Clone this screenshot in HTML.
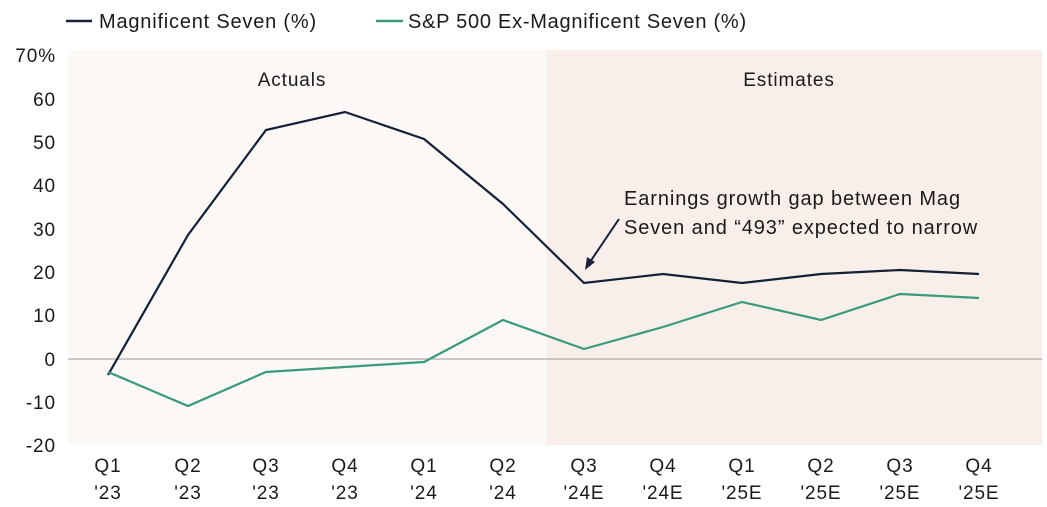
<!DOCTYPE html>
<html><head><meta charset="utf-8"><style>
html,body{margin:0;padding:0;background:#fff;}
svg{display:block;font-family:"Liberation Sans",sans-serif;}
text{letter-spacing:0.9px;}
</style></head><body>
<svg width="1047" height="507" viewBox="0 0 1047 507" xmlns="http://www.w3.org/2000/svg">
<rect x="68" y="50" width="479" height="395" fill="#fcf8f6"/>
<rect x="547" y="50" width="495" height="395" fill="#f8efea"/>
<line x1="68" y1="359" x2="1042" y2="359" stroke="#999" stroke-width="1"/>
<g font-size="19" fill="#1a1a1a" text-anchor="end">
<text x="56" y="62">70%</text><text x="56" y="106">60</text><text x="56" y="149">50</text>
<text x="56" y="192">40</text><text x="56" y="236">30</text><text x="56" y="279">20</text>
<text x="56" y="322">10</text><text x="56" y="366">0</text><text x="56" y="409">-10</text>
<text x="56" y="452">-20</text>
</g>
<g font-size="19" fill="#1a1a1a" text-anchor="middle">
<text x="108" y="472">Q1</text><text x="108" y="499">'23</text>
<text x="188" y="472">Q2</text><text x="188" y="499">'23</text>
<text x="266" y="472">Q3</text><text x="266" y="499">'23</text>
<text x="345" y="472">Q4</text><text x="345" y="499">'23</text>
<text x="424" y="472">Q1</text><text x="424" y="499">'24</text>
<text x="503" y="472">Q2</text><text x="503" y="499">'24</text>
<text x="584" y="472">Q3</text><text x="584" y="499">'24E</text>
<text x="663" y="472">Q4</text><text x="663" y="499">'24E</text>
<text x="742" y="472">Q1</text><text x="742" y="499">'25E</text>
<text x="821" y="472">Q2</text><text x="821" y="499">'25E</text>
<text x="900" y="472">Q3</text><text x="900" y="499">'25E</text>
<text x="979" y="472">Q4</text><text x="979" y="499">'25E</text>
<text x="292" y="86">Actuals</text>
<text x="789" y="86">Estimates</text>
</g>
<g font-size="20" fill="#1a1a1a" style="letter-spacing:1px">
<text x="624" y="205">Earnings growth gap between Mag</text>
<text x="624" y="234">Seven and “493” expected to narrow</text>
</g>
<line x1="619" y1="219" x2="590" y2="262" stroke="#1a1f3a" stroke-width="2"/>
<polygon points="585,270 587,257 595,262" fill="#1a1f3a"/>
<polyline fill="none" stroke="#14203a" stroke-width="2.2" points="108,375 188,235 266,130 345,112 424,139 503,204 584,283 663,274 742,283 821,274 900,270 979,274"/>
<polyline fill="none" stroke="#3a9a7c" stroke-width="2.2" points="108,372 188,406 266,372 345,367 424,362 503,320 584,349 663,327 742,302 821,320 900,294 979,298"/>
<g font-size="20" fill="#1a1a1a" style="letter-spacing:1px">
<line x1="66" y1="21" x2="92" y2="21" stroke="#14203a" stroke-width="2.5"/>
<text x="99" y="28" textLength="218" lengthAdjust="spacing">Magnificent Seven (%)</text>
<line x1="376" y1="21" x2="403" y2="21" stroke="#3a9a7c" stroke-width="2.5"/>
<text x="408" y="28" textLength="339" lengthAdjust="spacing">S&amp;P 500 Ex-Magnificent Seven (%)</text>
</g>
</svg>
</body></html>
